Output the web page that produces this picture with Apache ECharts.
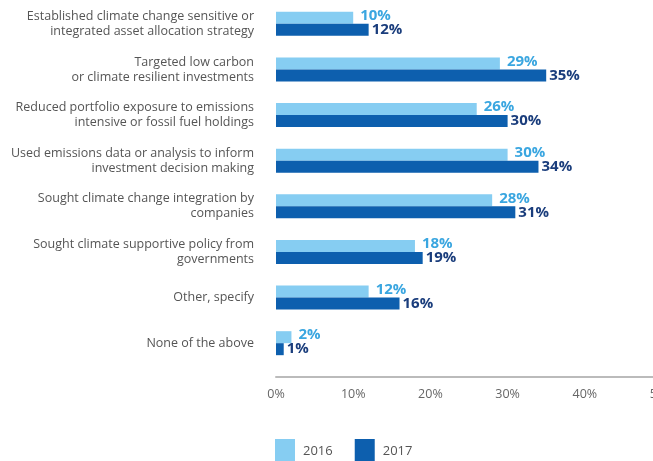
<!DOCTYPE html>
<html><head><meta charset="utf-8">
<script src="https://cdn.jsdelivr.net/npm/echarts@6/dist/echarts.min.js"></script>
<style>html,body{margin:0;padding:0;background:#fff;overflow:hidden;width:653px;height:461px}#c{width:690px;height:461px}</style>
</head><body><div id="c"></div>
<script>
const categories = [
  "Established climate change sensitive or\nintegrated asset allocation strategy",
  "Targeted low carbon\nor climate resilient investments",
  "Reduced portfolio exposure to emissions\nintensive or fossil fuel holdings",
  "Used emissions data or analysis to inform\ninvestment decision making",
  "Sought climate change integration by\ncompanies",
  "Sought climate supportive policy from\ngovernments",
  "Other, specify",
  "None of the above"
];
const values2016 = [10, 29, 26, 30, 28, 18, 12, 2];
const values2017 = [12, 35, 30, 34, 31, 19, 16, 1];
const xTicks = [0, 10, 20, 30, 40, 50];

const chart = echarts.init(document.getElementById('c'));
chart.setOption({
  animation: false,
  grid: { left: 276, top: 1, width: 386, height: 365, containLabel: false },
  legend: {
    data: ['2016', '2017'],
    left: 270, top: 434,
    itemWidth: 20, itemHeight: 25, itemGap: 22,
    icon: 'rect',
    textStyle: { color: '#555', fontSize: 13, fontFamily: 'Open Sans', padding: [0, 0, 0, 3] }
  },
  xAxis: {
    type: 'value', min: 0, max: 50, interval: 10,
    offset: 11,
    axisLine: { show: true, lineStyle: { color: '#bbb', width: 2 } },
    axisTick: { show: false },
    splitLine: { show: false },
    axisLabel: { formatter: v => xTicks.includes(v) ? v + '%' : '', color: '#666', fontSize: 12.5, fontFamily: 'Open Sans', margin: 11 }
  },
  yAxis: {
    type: 'category', data: categories, inverse: true,
    axisLine: { show: false }, axisTick: { show: false },
    axisLabel: { color: '#555', fontSize: 12.5, fontFamily: 'Open Sans', lineHeight: 15, margin: 22, align: 'right' }
  },
  series: [
    {
      name: '2016', type: 'bar', data: values2016, barWidth: 12, barGap: '0%',
      itemStyle: { color: '#86cdf2' },
      label: { show: true, position: 'right', distance: 7, formatter: '{c}%', color: '#3aa6e0', fontWeight: 'bold', fontSize: 15, fontFamily: 'Open Sans', offset: [0, -2] }
    },
    {
      name: '2017', type: 'bar', data: values2017, barWidth: 12,
      itemStyle: { color: '#0d5fae' },
      label: { show: true, position: 'right', distance: 3, formatter: '{c}%', color: '#1a3d7c', fontWeight: 'bold', fontSize: 15, fontFamily: 'Open Sans' }
    }
  ]
});
</script>
</body></html>
